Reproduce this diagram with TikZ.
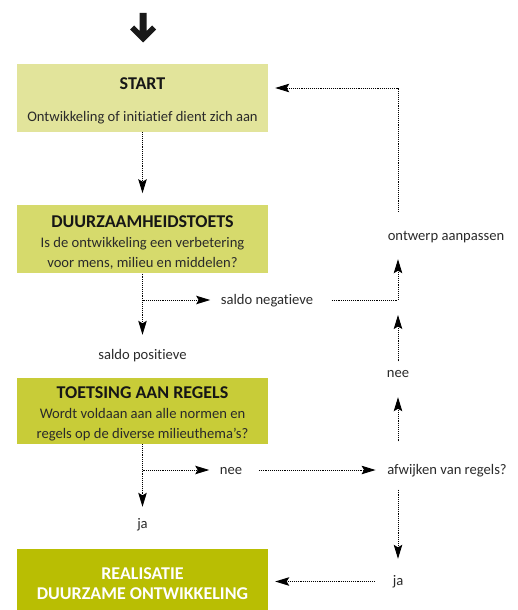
\documentclass[tikz,border=0pt]{standalone}
\usepackage{fontspec}
\setmainfont[Ligatures=NoCommon]{Carlito}
\usetikzlibrary{positioning, arrows.meta}

\definecolor{startfill}{HTML}{E2E49B}
\definecolor{toetsfill}{HTML}{D6DA6C}
\definecolor{regelfill}{HTML}{C8CC38}
\definecolor{realfill}{HTML}{B9BE03}
\definecolor{txtgray}{HTML}{2A2A2A}
\definecolor{ttlgray}{HTML}{161616}

\newcommand{\ttl}[1]{{\fontsize{18pt}{20pt}\selectfont\bfseries\color{ttlgray}\rule{0pt}{18.5pt}#1}}

\begin{document}
\begin{tikzpicture}[x=1pt, y=-1pt]
\tikzstyle{main}=[rectangle, minimum width = 251pt, inner sep=0pt, align=center, text=txtgray, font=\fontsize{14.6pt}{20pt}\selectfont]
\tikzstyle{lbl}=[text=txtgray, font=\fontsize{14.6pt}{18pt}\selectfont, text height=10pt, text depth=3pt, inner sep=3pt]
\tikzstyle{connect}=[draw, densely dotted, line width=0.9pt, -{Stealth[length=14pt, width=8.5pt, inset=2.5pt]}]
\useasboundingbox (0,0) rectangle (517,610);
% entry arrow
\fill[black!90] (139.5,13) -- (146.5,13) -- (146.5,31) -- (152,25.5) -- (156,29.5) -- (143,42.5)
      -- (130,29.5) -- (134,25.5) -- (139.5,31) -- cycle;
% boxes
\node[main, fill = startfill, minimum height = 68pt] (start) at (142.5,98) {\ttl{START}\\[12pt] Ontwikkeling of initiatief dient zich aan};
\node[main, fill = toetsfill, minimum height = 68pt] (toets) [below=73pt of start] {\ttl{DUURZAAMHEIDSTOETS}\\ Is de ontwikkeling een verbetering\\ voor mens, milieu en middelen?};
\node[main, fill = regelfill, minimum height = 66pt] (regels) [below=104pt of toets] {\ttl{TOETSING AAN REGELS}\\ Wordt voldaan aan alle normen en\\ regels op de diverse milieuthema’s?};
\node[main, fill = realfill, minimum height = 62pt, text = white, font = \fontsize{18pt}{19.5pt}\selectfont\bfseries] (real) [below=105pt of regels] {\rule{0pt}{18.5pt}REALISATIE\\ DUURZAME ONTWIKKELING};
% labels
\node[lbl] (pos) at (142.5,355.5) {saldo positieve};
\node[lbl] (neg) at (267,301) {saldo negatieve};
\node[lbl] (aanp) at (446,236.5) {ontwerp aanpassen};
\node[lbl] (nee1) at (398,373.5) {nee};
\node[lbl] (nee2) at (231,471) {nee};
\node[lbl] (afw) at (447,471) {afwijken van regels?};
\node[lbl] (ja1) at (142.5,524.5) {ja};
\node[lbl] (ja2) at (398,581.5) {ja};
\coordinate (b1) at (142.5,300);
\coordinate (b2) at (142.5,470);
\coordinate (rgt) at (398,300);
% connectors
\path (start) edge [connect, shorten >=12pt] (toets)
      (toets) edge [connect, shorten >=11pt] (pos)
      (b1) edge [connect, shorten >=7.5pt] (neg.west |- b1)
      (regels) edge [connect, shorten >=8pt] (ja1)
      (b2) edge [connect, shorten >=7.5pt] (nee2.west |- b2)
      (nee2.east |- b2) edge [connect, shorten <=13.5pt, shorten >=8.5pt] (afw.west |- b2)
      (afw.north -| rgt) edge [connect, shorten <=20pt, shorten >=14pt] (nee1.south)
      (nee1.north) edge [connect, shorten <=2.5pt, shorten >=15pt] (rgt)
      (afw.south -| rgt) edge [connect, shorten <=9pt, shorten >=13pt] (ja2.north)
      (ja2.west) edge [connect, shorten <=15pt, shorten >=7pt] (real.east |- ja2);
\draw[connect, shorten <=15.5pt, shorten >=13pt] (neg.east |- rgt) -| (rgt |- aanp.south);
\draw[connect, shorten <=15pt, shorten >=7pt] (aanp.north -| rgt) |- ([yshift=10pt]start.east);
\end{tikzpicture}
\end{document}
